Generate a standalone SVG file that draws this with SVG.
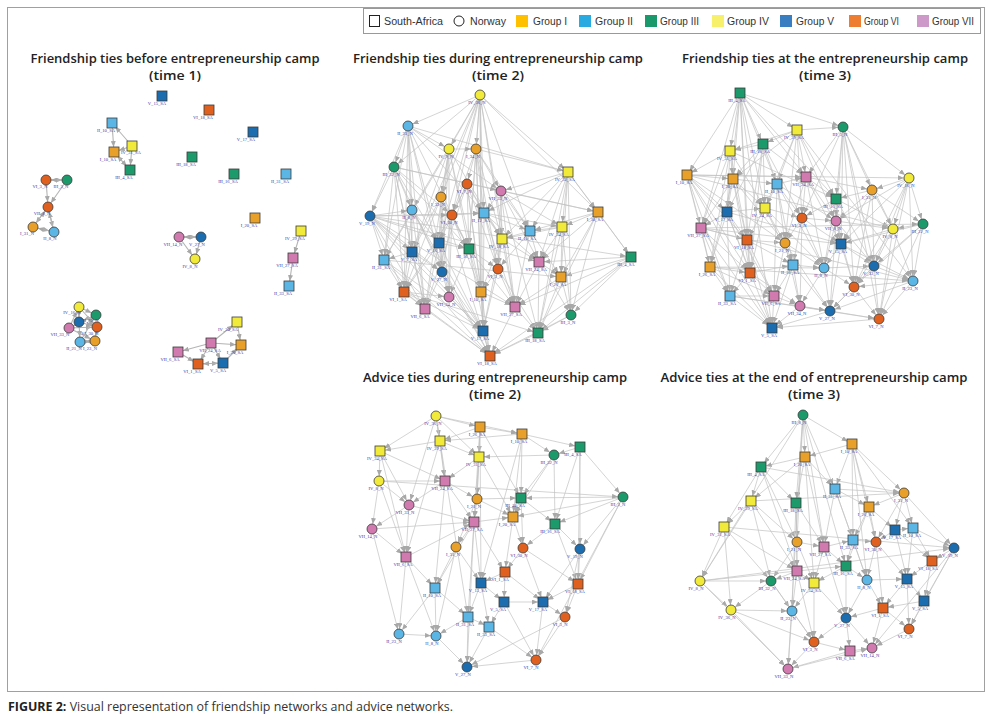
<svg xmlns="http://www.w3.org/2000/svg" width="988" height="723" viewBox="0 0 988 723">
<style>
.O{fill:#E8A02A}.L{fill:#5BB6E6}.G{fill:#1D9A6C}.Y{fill:#F2EA3A}.B{fill:#1B6DB0}.R{fill:#E0611F}.P{fill:#D07AB0}
.nodes circle,.nodes rect{stroke:#3a3a3a;stroke-width:.8}
.nodes text{font-family:"Liberation Serif",serif;font-size:4.6px;fill:#3b3bab;text-anchor:middle}
.e path{fill:none;stroke:#c2c2c2;stroke-width:.7;marker-end:url(#ar)}
.e1 path{fill:none;stroke:#b4b4b4;stroke-width:1.1;marker-end:url(#ar)}
.title{font-family:"Open Sans","Liberation Sans",sans-serif;font-weight:600;font-size:13px;fill:#222;text-anchor:middle}
.leg{font-family:"Liberation Sans",sans-serif;font-size:10px;fill:#333}
</style>
<defs>
<marker id="ar" markerUnits="userSpaceOnUse" viewBox="0 0 6 5" markerWidth="6" markerHeight="5" refX="11" refY="2.5" orient="auto"><path d="M0 0L6 2.5L0 5z" fill="#a8a8a8"/></marker>
</defs>
<rect x="0" y="0" width="988" height="723" fill="#fff"/>
<rect x="7.5" y="7.5" width="977" height="684" fill="none" stroke="#a0a0a0" stroke-width="1"/>

<g id="legend">
<rect x="363.5" y="8.5" width="617" height="25" fill="#fff" stroke="#999" stroke-width="1"/>
<rect x="369.5" y="15.5" width="10" height="11" fill="#fff" stroke="#222" stroke-width="1"/>
<text class="leg" x="384" y="25" textLength="59" lengthAdjust="spacingAndGlyphs">South-Africa</text>
<circle cx="459" cy="21" r="5" fill="#fff" stroke="#222" stroke-width="1"/>
<text class="leg" x="470" y="25" textLength="36" lengthAdjust="spacingAndGlyphs">Norway</text>
<rect x="516" y="15" width="12" height="12" fill="#FFC000"/>
<text class="leg" x="533" y="25" textLength="34" lengthAdjust="spacingAndGlyphs">Group I</text>
<rect x="579" y="15" width="12" height="12" fill="#29ABE2"/>
<text class="leg" x="595" y="25" textLength="38" lengthAdjust="spacingAndGlyphs">Group II</text>
<rect x="645" y="15" width="12" height="12" fill="#1A9A6C"/>
<text class="leg" x="660" y="25" textLength="39" lengthAdjust="spacingAndGlyphs">Group III</text>
<rect x="712" y="15" width="12" height="12" fill="#F7F06B"/>
<text class="leg" x="727" y="25" textLength="42" lengthAdjust="spacingAndGlyphs">Group IV</text>
<rect x="780" y="15" width="12" height="12" fill="#3A7EC2"/>
<text class="leg" x="796" y="25" textLength="38" lengthAdjust="spacingAndGlyphs">Group V</text>
<rect x="849" y="15" width="12" height="12" fill="#EE7D31"/>
<text class="leg" x="864" y="25" textLength="35" lengthAdjust="spacingAndGlyphs">Group VI</text>
<rect x="917" y="15" width="12" height="12" fill="#CC99C9"/>
<text class="leg" x="932" y="25" textLength="42" lengthAdjust="spacingAndGlyphs">Group VII</text>
</g>

<g id="titles">
<text class="title" x="175" y="63" textLength="289" lengthAdjust="spacingAndGlyphs">Friendship ties before entrepreneurship camp</text>
<text class="title" x="175" y="80" textLength="52" lengthAdjust="spacingAndGlyphs">(time 1)</text>
<text class="title" x="498" y="63" textLength="290" lengthAdjust="spacingAndGlyphs">Friendship ties during entrepreneurship camp</text>
<text class="title" x="498" y="80" textLength="52" lengthAdjust="spacingAndGlyphs">(time 2)</text>
<text class="title" x="825" y="63" textLength="286" lengthAdjust="spacingAndGlyphs">Friendship ties at the entrepreneurship camp</text>
<text class="title" x="825" y="80" textLength="52" lengthAdjust="spacingAndGlyphs">(time 3)</text>
<text class="title" x="495" y="382" textLength="264" lengthAdjust="spacingAndGlyphs">Advice ties during entrepreneurship camp</text>
<text class="title" x="495" y="399" textLength="52" lengthAdjust="spacingAndGlyphs">(time 2)</text>
<text class="title" x="814" y="382" textLength="307" lengthAdjust="spacingAndGlyphs">Advice ties at the end of entrepreneurship camp</text>
<text class="title" x="814" y="399" textLength="52" lengthAdjust="spacingAndGlyphs">(time 3)</text>
</g>

<g id="connectors">
<g class="e1">
<path d="M132 146L112 123"/><path d="M112 123L114 152"/><path d="M132 146L114 152"/><path d="M132 146L130 170"/><path d="M130 170L114 152"/><path d="M114 152L130 170"/>
<path d="M46 180L67 180"/><path d="M67 180L46 180"/><path d="M46 180L48 207"/><path d="M67 180L48 207"/><path d="M48 207L33 227"/><path d="M33 227L48 207"/><path d="M48 207L54 232"/><path d="M54 232L48 207"/><path d="M33 227L54 232"/><path d="M54 232L33 227"/>
<path d="M179 237L201 237"/><path d="M201 237L179 237"/><path d="M179 237L195 259"/><path d="M201 237L195 259"/>
<path d="M301 231L293 258"/><path d="M293 258L289 286"/>
<path d="M79 307L96 315"/><path d="M79 307L79 322"/><path d="M96 315L79 322"/><path d="M79 322L97 327"/><path d="M69 328L97 327"/><path d="M79 322L80 342"/><path d="M97 327L95 341"/><path d="M69 328L95 341"/><path d="M80 342L95 341"/><path d="M95 341L80 342"/><path d="M96 315L69 328"/><path d="M79 307L97 327"/><path d="M80 342L96 315"/><path d="M69 328L79 307"/>
<path d="M237 322L241 345"/><path d="M211 343L241 345"/><path d="M211 343L178 352"/><path d="M211 343L198 364"/><path d="M198 364L223 363"/><path d="M223 363L198 364"/><path d="M223 363L241 345"/><path d="M211 343L223 363"/><path d="M178 352L198 364"/><path d="M211 343L237 322"/>
</g>
<g class="e">
<path d="M480 95L408 126"/><path d="M480 95L449 149"/><path d="M480 95L476 149"/><path d="M480 95L568 172"/><path d="M480 95L394 167"/><path d="M480 95L441 197"/><path d="M480 95L452 215"/><path d="M480 95L484 213"/><path d="M480 95L502 239"/><path d="M480 95L469 249"/><path d="M480 95L481 292"/><path d="M480 95L483 331"/><path d="M480 95L530 231"/><path d="M480 95L412 210"/>
<path d="M408 126L449 149"/><path d="M408 126L394 167"/><path d="M408 126L370 216"/><path d="M408 126L412 210"/><path d="M408 126L439 243"/><path d="M408 126L384 260"/><path d="M408 126L469 249"/><path d="M408 126L501 191"/><path d="M408 126L412 252"/>
<path d="M449 149L476 149"/><path d="M449 149L441 197"/><path d="M449 149L439 243"/><path d="M449 149L449 297"/><path d="M449 149L425 309"/><path d="M449 149L442 272"/><path d="M449 149L384 260"/>
<path d="M476 149L467 184"/><path d="M476 149L501 191"/><path d="M476 149L484 213"/><path d="M476 149L481 292"/><path d="M476 149L568 172"/><path d="M476 149L469 249"/><path d="M476 149L483 331"/>
<path d="M394 167L370 216"/><path d="M394 167L412 210"/><path d="M394 167L412 252"/><path d="M394 167L404 292"/><path d="M394 167L452 215"/><path d="M394 167L439 243"/>
<path d="M568 172L598 212"/><path d="M568 172L562 227"/><path d="M568 172L502 239"/><path d="M568 172L539 262"/><path d="M568 172L631 257"/><path d="M568 172L501 191"/><path d="M568 172L561 277"/>
<path d="M467 184L452 215"/><path d="M467 184L469 249"/><path d="M467 184L498 269"/><path d="M467 184L490 356"/><path d="M467 184L425 309"/>
<path d="M501 191L530 231"/><path d="M501 191L502 239"/><path d="M501 191L515 307"/><path d="M501 191L538 333"/><path d="M501 191L598 212"/>
<path d="M441 197L439 243"/><path d="M441 197L442 272"/><path d="M441 197L404 292"/><path d="M441 197L490 356"/>
<path d="M412 210L412 252"/><path d="M412 210L384 260"/><path d="M412 210L404 292"/><path d="M412 210L483 331"/>
<path d="M370 216L412 252"/><path d="M370 216L384 260"/><path d="M370 216L404 292"/><path d="M370 216L425 309"/><path d="M370 216L490 356"/><path d="M370 216L483 331"/><path d="M370 216L469 249"/><path d="M370 216L484 213"/>
<path d="M452 215L484 213"/><path d="M452 215L442 272"/><path d="M452 215L449 297"/>
<path d="M484 213L530 231"/><path d="M484 213L498 269"/><path d="M484 213L483 331"/><path d="M484 213L562 227"/>
<path d="M598 212L631 257"/><path d="M598 212L561 277"/><path d="M598 212L571 315"/><path d="M598 212L562 227"/><path d="M598 212L539 262"/>
<path d="M562 227L530 231"/><path d="M562 227L561 277"/><path d="M562 227L539 262"/><path d="M562 227L538 333"/>
<path d="M530 231L502 239"/><path d="M530 231L515 307"/><path d="M530 231L561 277"/>
<path d="M502 239L498 269"/><path d="M502 239L481 292"/><path d="M502 239L483 331"/>
<path d="M439 243L442 272"/><path d="M439 243L404 292"/><path d="M439 243L469 249"/><path d="M439 243L425 309"/>
<path d="M412 252L384 260"/><path d="M412 252L404 292"/><path d="M412 252L483 331"/>
<path d="M469 249L498 269"/><path d="M469 249L481 292"/><path d="M469 249L490 356"/>
<path d="M631 257L561 277"/><path d="M631 257L571 315"/><path d="M631 257L538 333"/><path d="M631 257L539 262"/>
<path d="M384 260L404 292"/><path d="M384 260L425 309"/><path d="M384 260L490 356"/>
<path d="M539 262L561 277"/><path d="M539 262L515 307"/><path d="M539 262L571 315"/>
<path d="M442 272L449 297"/><path d="M442 272L425 309"/><path d="M442 272L490 356"/>
<path d="M498 269L515 307"/><path d="M498 269L538 333"/><path d="M561 277L571 315"/><path d="M561 277L538 333"/>
<path d="M404 292L425 309"/><path d="M404 292L483 331"/><path d="M404 292L490 356"/><path d="M481 292L515 307"/><path d="M481 292L483 331"/><path d="M449 297L483 331"/>
<path d="M515 307L538 333"/><path d="M425 309L490 356"/><path d="M571 315L538 333"/><path d="M483 331L490 356"/><path d="M538 333L490 356"/><path d="M515 307L490 356"/><path d="M571 315L490 356"/>
<path d="M408 126L568 172"/><path d="M370 216L631 257"/><path d="M384 260L561 277"/><path d="M370 216L539 262"/><path d="M394 167L598 212"/><path d="M404 292L538 333"/>
<path d="M480 95L515 307"/><path d="M480 95L439 243"/><path d="M480 95L412 252"/><path d="M480 95L598 212"/><path d="M408 126L404 292"/><path d="M408 126L442 272"/><path d="M408 126L484 213"/><path d="M408 126L425 309"/>
<path d="M449 149L412 252"/><path d="M449 149L469 249"/><path d="M449 149L502 239"/><path d="M449 149L481 292"/><path d="M476 149L452 215"/><path d="M476 149L502 239"/><path d="M476 149L530 231"/><path d="M476 149L498 269"/>
<path d="M394 167L384 260"/><path d="M394 167L469 249"/><path d="M394 167L442 272"/><path d="M394 167L425 309"/><path d="M568 172L484 213"/><path d="M568 172L530 231"/><path d="M568 172L571 315"/><path d="M568 172L538 333"/>
<path d="M467 184L484 213"/><path d="M467 184L502 239"/><path d="M467 184L439 243"/><path d="M467 184L481 292"/><path d="M501 191L484 213"/><path d="M501 191L562 227"/><path d="M501 191L539 262"/><path d="M501 191L498 269"/>
<path d="M441 197L412 252"/><path d="M441 197L469 249"/><path d="M441 197L449 297"/><path d="M412 210L439 243"/><path d="M412 210L425 309"/><path d="M412 210L490 356"/><path d="M370 216L442 272"/><path d="M370 216L412 210"/>
<path d="M452 215L469 249"/><path d="M452 215L481 292"/><path d="M452 215L404 292"/><path d="M484 213L502 239"/><path d="M484 213L539 262"/><path d="M484 213L515 307"/><path d="M598 212L530 231"/><path d="M598 212L538 333"/>
<path d="M562 227L571 315"/><path d="M562 227L502 239"/><path d="M530 231L498 269"/><path d="M530 231L539 262"/><path d="M502 239L539 262"/><path d="M502 239L515 307"/><path d="M439 243L483 331"/><path d="M439 243L449 297"/>
<path d="M412 252L425 309"/><path d="M412 252L442 272"/><path d="M469 249L449 297"/><path d="M469 249L515 307"/><path d="M539 262L538 333"/><path d="M498 269L481 292"/><path d="M498 269L483 331"/><path d="M442 272L483 331"/>
<path d="M561 277L515 307"/><path d="M404 292L449 297"/><path d="M631 257L515 307"/><path d="M631 257L490 356"/><path d="M370 216L515 307"/><path d="M384 260L483 331"/><path d="M394 167L501 191"/><path d="M370 216L452 215"/>
</g>
<g class="e">
<path d="M740 93L797 130"/><path d="M740 93L763 144"/><path d="M740 93L730 151"/><path d="M740 93L687 175"/><path d="M740 93L733 179"/><path d="M740 93L727 212"/><path d="M740 93L701 228"/><path d="M740 93L765 208"/><path d="M740 93L843 127"/><path d="M740 93L777 184"/>
<path d="M797 130L843 127"/><path d="M797 130L763 144"/><path d="M797 130L730 151"/><path d="M797 130L806 177"/><path d="M797 130L836 199"/><path d="M797 130L802 218"/><path d="M797 130L785 243"/>
<path d="M843 127L909 178"/><path d="M843 127L872 190"/><path d="M843 127L836 199"/><path d="M843 127L836 221"/><path d="M843 127L841 244"/><path d="M843 127L874 266"/><path d="M843 127L806 177"/>
<path d="M763 144L730 151"/><path d="M763 144L733 179"/><path d="M763 144L777 184"/><path d="M763 144L765 208"/><path d="M763 144L747 240"/><path d="M763 144L750 273"/>
<path d="M730 151L687 175"/><path d="M730 151L733 179"/><path d="M730 151L727 212"/><path d="M730 151L701 228"/><path d="M730 151L710 267"/>
<path d="M687 175L733 179"/><path d="M687 175L701 228"/><path d="M687 175L710 267"/><path d="M687 175L730 296"/><path d="M687 175L727 212"/><path d="M687 175L772 328"/>
<path d="M733 179L777 184"/><path d="M733 179L727 212"/><path d="M733 179L747 240"/><path d="M733 179L750 273"/><path d="M733 179L785 243"/>
<path d="M777 184L806 177"/><path d="M777 184L802 218"/><path d="M777 184L785 243"/><path d="M777 184L793 265"/><path d="M777 184L836 221"/>
<path d="M806 177L836 199"/><path d="M806 177L836 221"/><path d="M806 177L802 218"/><path d="M806 177L824 268"/>
<path d="M909 178L872 190"/><path d="M909 178L923 224"/><path d="M909 178L893 229"/><path d="M909 178L913 281"/><path d="M909 178L841 244"/><path d="M909 178L836 221"/>
<path d="M872 190L836 199"/><path d="M872 190L893 229"/><path d="M872 190L874 266"/><path d="M872 190L836 221"/>
<path d="M836 199L836 221"/><path d="M836 199L841 244"/><path d="M836 199L824 268"/><path d="M836 199L893 229"/>
<path d="M727 212L701 228"/><path d="M727 212L747 240"/><path d="M727 212L765 208"/><path d="M727 212L730 296"/><path d="M727 212L772 328"/>
<path d="M765 208L802 218"/><path d="M765 208L785 243"/><path d="M765 208L747 240"/><path d="M765 208L793 265"/>
<path d="M802 218L836 221"/><path d="M802 218L785 243"/><path d="M802 218L824 268"/><path d="M802 218L800 306"/>
<path d="M836 221L841 244"/><path d="M836 221L824 268"/><path d="M836 221L830 311"/>
<path d="M923 224L893 229"/><path d="M923 224L913 281"/><path d="M923 224L879 319"/><path d="M923 224L874 266"/><path d="M923 224L841 244"/>
<path d="M893 229L874 266"/><path d="M893 229L913 281"/><path d="M893 229L841 244"/>
<path d="M701 228L710 267"/><path d="M701 228L747 240"/><path d="M701 228L730 296"/><path d="M701 228L772 328"/>
<path d="M747 240L750 273"/><path d="M747 240L785 243"/><path d="M747 240L774 296"/><path d="M747 240L772 328"/>
<path d="M785 243L793 265"/><path d="M785 243L824 268"/><path d="M785 243L800 306"/>
<path d="M841 244L874 266"/><path d="M841 244L854 287"/><path d="M841 244L824 268"/><path d="M841 244L830 311"/>
<path d="M710 267L750 273"/><path d="M710 267L730 296"/><path d="M710 267L772 328"/>
<path d="M750 273L730 296"/><path d="M750 273L774 296"/><path d="M750 273L793 265"/>
<path d="M793 265L824 268"/><path d="M793 265L774 296"/><path d="M793 265L800 306"/><path d="M793 265L830 311"/>
<path d="M824 268L854 287"/><path d="M824 268L830 311"/><path d="M824 268L874 266"/>
<path d="M874 266L913 281"/><path d="M874 266L854 287"/><path d="M874 266L879 319"/><path d="M913 281L879 319"/><path d="M913 281L854 287"/>
<path d="M854 287L830 311"/><path d="M854 287L879 319"/><path d="M730 296L772 328"/><path d="M730 296L774 296"/><path d="M774 296L800 306"/><path d="M774 296L772 328"/>
<path d="M800 306L830 311"/><path d="M800 306L772 328"/><path d="M830 311L772 328"/><path d="M879 319L772 328"/><path d="M830 311L879 319"/>
<path d="M740 93L772 328"/><path d="M843 127L879 319"/><path d="M909 178L879 319"/><path d="M701 228L913 281"/><path d="M687 175L893 229"/><path d="M701 228L923 224"/><path d="M710 267L913 281"/><path d="M730 296L879 319"/><path d="M797 130L913 281"/><path d="M687 175L909 178"/><path d="M730 151L836 199"/><path d="M727 212L841 244"/>
<path d="M740 93L806 177"/><path d="M740 93L750 273"/><path d="M740 93L747 240"/><path d="M797 130L777 184"/><path d="M797 130L733 179"/><path d="M797 130L765 208"/><path d="M797 130L836 221"/><path d="M843 127L893 229"/>
<path d="M843 127L802 218"/><path d="M843 127L854 287"/><path d="M763 144L806 177"/><path d="M763 144L802 218"/><path d="M763 144L727 212"/><path d="M730 151L747 240"/><path d="M730 151L765 208"/><path d="M687 175L747 240"/>
<path d="M687 175L750 273"/><path d="M733 179L765 208"/><path d="M733 179L701 228"/><path d="M733 179L710 267"/><path d="M777 184L765 208"/><path d="M777 184L824 268"/><path d="M777 184L774 296"/><path d="M806 177L785 243"/>
<path d="M806 177L841 244"/><path d="M806 177L872 190"/><path d="M909 178L874 266"/><path d="M909 178L854 287"/><path d="M872 190L923 224"/><path d="M872 190L841 244"/><path d="M872 190L854 287"/><path d="M836 199L802 218"/>
<path d="M836 199L874 266"/><path d="M727 212L750 273"/><path d="M727 212L710 267"/><path d="M727 212L774 296"/><path d="M765 208L750 273"/><path d="M765 208L824 268"/><path d="M802 218L793 265"/><path d="M802 218L841 244"/>
<path d="M836 221L874 266"/><path d="M836 221L854 287"/><path d="M836 221L893 229"/><path d="M893 229L854 287"/><path d="M893 229L879 319"/><path d="M701 228L750 273"/><path d="M747 240L793 265"/><path d="M747 240L730 296"/>
<path d="M785 243L774 296"/><path d="M785 243L830 311"/><path d="M841 244L913 281"/><path d="M710 267L774 296"/><path d="M750 273L800 306"/><path d="M793 265L772 328"/><path d="M824 268L800 306"/><path d="M874 266L830 311"/>
<path d="M913 281L830 311"/><path d="M923 224L854 287"/><path d="M687 175L785 243"/><path d="M701 228L841 244"/><path d="M710 267L824 268"/><path d="M730 296L830 311"/><path d="M740 93L836 199"/><path d="M687 175L806 177"/>
</g>
<g class="e">
<path d="M436 416L480 427"/><path d="M436 416L440 441"/><path d="M436 416L380 451"/><path d="M436 416L445 481"/><path d="M436 416L479 457"/><path d="M436 416L409 505"/><path d="M436 416L522 434"/>
<path d="M480 427L522 434"/><path d="M480 427L440 441"/><path d="M480 427L479 457"/><path d="M480 427L477 499"/><path d="M480 427L474 522"/><path d="M480 427L521 498"/>
<path d="M522 434L580 447"/><path d="M522 434L554 455"/><path d="M522 434L521 498"/><path d="M522 434L513 517"/><path d="M522 434L440 441"/>
<path d="M440 441L380 451"/><path d="M440 441L445 481"/><path d="M440 441L479 457"/><path d="M440 441L406 557"/>
<path d="M380 451L379 481"/><path d="M380 451L409 505"/><path d="M380 451L445 481"/><path d="M380 451L406 557"/>
<path d="M580 447L554 455"/><path d="M580 447L623 497"/><path d="M580 447L555 524"/><path d="M580 447L580 549"/>
<path d="M554 455L521 498"/><path d="M554 455L555 524"/><path d="M554 455L513 517"/><path d="M554 455L479 457"/>
<path d="M479 457L477 499"/><path d="M479 457L474 522"/><path d="M479 457L445 481"/><path d="M479 457L513 517"/>
<path d="M379 481L372 529"/><path d="M379 481L409 505"/><path d="M379 481L406 557"/><path d="M379 481L445 481"/>
<path d="M445 481L409 505"/><path d="M445 481L474 522"/><path d="M445 481L477 499"/><path d="M445 481L435 588"/>
<path d="M477 499L474 522"/><path d="M477 499L521 498"/><path d="M477 499L456 547"/><path d="M477 499L513 517"/>
<path d="M521 498L555 524"/><path d="M521 498L513 517"/><path d="M521 498L523 548"/>
<path d="M623 497L555 524"/><path d="M623 497L521 498"/><path d="M623 497L580 549"/><path d="M623 497L578 584"/><path d="M623 497L513 517"/>
<path d="M409 505L406 557"/><path d="M409 505L372 529"/><path d="M409 505L474 522"/>
<path d="M474 522L513 517"/><path d="M474 522L456 547"/><path d="M474 522L481 583"/><path d="M474 522L505 572"/><path d="M474 522L435 588"/><path d="M474 522L468 617"/><path d="M474 522L467 667"/>
<path d="M513 517L523 548"/><path d="M513 517L505 572"/>
<path d="M555 524L523 548"/><path d="M555 524L578 584"/><path d="M555 524L580 549"/>
<path d="M372 529L406 557"/><path d="M372 529L399 634"/><path d="M372 529L474 522"/>
<path d="M456 547L435 588"/><path d="M456 547L481 583"/><path d="M456 547L436 636"/>
<path d="M523 548L505 572"/><path d="M523 548L543 602"/><path d="M523 548L578 584"/>
<path d="M580 549L578 584"/><path d="M580 549L565 617"/><path d="M580 549L543 602"/>
<path d="M406 557L435 588"/><path d="M406 557L399 634"/><path d="M406 557L436 636"/><path d="M406 557L474 522"/>
<path d="M505 572L504 602"/><path d="M505 572L543 602"/><path d="M505 572L481 583"/>
<path d="M578 584L565 617"/><path d="M578 584L543 602"/>
<path d="M481 583L504 602"/><path d="M481 583L468 617"/><path d="M481 583L489 627"/>
<path d="M435 588L468 617"/><path d="M435 588L436 636"/><path d="M435 588L399 634"/>
<path d="M504 602L489 627"/><path d="M504 602L543 602"/><path d="M504 602L536 660"/>
<path d="M543 602L565 617"/><path d="M543 602L536 660"/><path d="M565 617L536 660"/><path d="M565 617L467 667"/>
<path d="M468 617L489 627"/><path d="M468 617L436 636"/><path d="M468 617L467 667"/><path d="M489 627L467 667"/><path d="M489 627L536 660"/>
<path d="M399 634L436 636"/><path d="M436 636L467 667"/><path d="M536 660L467 667"/>
<path d="M436 416L468 617"/><path d="M522 434L481 583"/><path d="M623 497L536 660"/><path d="M580 447L578 584"/><path d="M480 427L481 583"/><path d="M379 481L623 497"/>
</g>
<g class="e">
<path d="M803 415L805 457"/><path d="M803 415L761 467"/><path d="M803 415L852 444"/><path d="M803 415L796 503"/><path d="M803 415L824 547"/><path d="M803 415L835 489"/><path d="M803 415L846 566"/><path d="M803 415L797 542"/>
<path d="M852 444L805 457"/><path d="M852 444L835 489"/><path d="M852 444L904 493"/><path d="M852 444L869 507"/><path d="M852 444L853 540"/><path d="M852 444L876 542"/><path d="M852 444L913 528"/><path d="M852 444L867 580"/>
<path d="M805 457L761 467"/><path d="M805 457L751 501"/><path d="M805 457L796 503"/><path d="M805 457L835 489"/><path d="M805 457L824 547"/><path d="M805 457L814 583"/>
<path d="M761 467L751 501"/><path d="M761 467L796 503"/><path d="M761 467L724 527"/><path d="M761 467L797 542"/><path d="M761 467L797 571"/>
<path d="M835 489L869 507"/><path d="M835 489L853 540"/><path d="M835 489L824 547"/><path d="M835 489L867 580"/><path d="M835 489L904 493"/>
<path d="M904 493L869 507"/><path d="M904 493L895 530"/><path d="M904 493L913 528"/><path d="M904 493L954 548"/><path d="M904 493L876 542"/>
<path d="M751 501L724 527"/><path d="M751 501L797 542"/><path d="M751 501L700 581"/><path d="M751 501L771 581"/><path d="M751 501L797 571"/>
<path d="M796 503L797 542"/><path d="M796 503L824 547"/><path d="M796 503L797 571"/><path d="M796 503L792 611"/>
<path d="M869 507L853 540"/><path d="M869 507L895 530"/><path d="M869 507L876 542"/><path d="M869 507L846 566"/>
<path d="M724 527L700 581"/><path d="M724 527L731 610"/><path d="M724 527L771 581"/><path d="M724 527L797 571"/>
<path d="M895 530L913 528"/><path d="M895 530L932 561"/><path d="M895 530L907 579"/><path d="M895 530L876 542"/>
<path d="M913 528L954 548"/><path d="M913 528L932 561"/><path d="M913 528L907 579"/>
<path d="M797 542L824 547"/><path d="M797 542L797 571"/><path d="M797 542L814 583"/><path d="M797 542L771 581"/>
<path d="M824 547L853 540"/><path d="M824 547L846 566"/><path d="M824 547L814 583"/><path d="M824 547L846 618"/>
<path d="M853 540L876 542"/><path d="M853 540L846 566"/><path d="M853 540L867 580"/>
<path d="M876 542L867 580"/><path d="M876 542L907 579"/><path d="M876 542L883 608"/>
<path d="M954 548L932 561"/><path d="M954 548L924 601"/><path d="M954 548L909 629"/><path d="M932 561L907 579"/><path d="M932 561L924 601"/>
<path d="M797 571L771 581"/><path d="M797 571L814 583"/><path d="M797 571L792 611"/><path d="M797 571L814 642"/>
<path d="M846 566L867 580"/><path d="M846 566L814 583"/><path d="M846 566L846 618"/>
<path d="M867 580L883 608"/><path d="M867 580L846 618"/><path d="M867 580L907 579"/>
<path d="M907 579L924 601"/><path d="M907 579L883 608"/><path d="M907 579L909 629"/>
<path d="M700 581L731 610"/><path d="M700 581L788 669"/><path d="M700 581L771 581"/>
<path d="M771 581L731 610"/><path d="M771 581L792 611"/><path d="M771 581L814 642"/>
<path d="M814 583L792 611"/><path d="M814 583L846 618"/><path d="M814 583L814 642"/>
<path d="M924 601L883 608"/><path d="M924 601L909 629"/>
<path d="M731 610L792 611"/><path d="M731 610L788 669"/><path d="M731 610L814 642"/>
<path d="M792 611L814 642"/><path d="M792 611L788 669"/>
<path d="M883 608L909 629"/><path d="M883 608L846 618"/><path d="M883 608L872 648"/>
<path d="M846 618L850 651"/><path d="M846 618L872 648"/><path d="M846 618L814 642"/><path d="M909 629L872 648"/>
<path d="M814 642L850 651"/><path d="M814 642L788 669"/><path d="M850 651L872 648"/><path d="M850 651L788 669"/>
<path d="M803 415L788 669"/><path d="M803 415L700 581"/><path d="M700 581L954 548"/><path d="M724 527L954 548"/><path d="M751 501L904 493"/><path d="M761 467L904 493"/><path d="M700 581L846 566"/><path d="M788 669L872 648"/><path d="M954 548L872 648"/>
</g>
</g>

<g class="nodes">
<g id="a1"><rect class="B" x="157" y="91" width="10" height="10"/><text x="157" y="105">V_15_SA</text></g>
<g id="a2"><rect class="R" x="204" y="105" width="10" height="10"/><text x="203" y="119">VI_18_SA</text></g>
<g id="a3"><rect class="B" x="248" y="127" width="10" height="10"/><text x="246" y="141">V_17_SA</text></g>
<g id="a4"><rect class="L" x="107" y="118" width="10" height="10"/><text x="106" y="132">II_10_SA</text></g>
<g id="a5"><rect class="Y" x="127" y="141" width="10" height="10"/><text x="131" y="154">IV_31_SA</text></g>
<g id="a6"><rect class="O" x="109" y="147" width="10" height="10"/><text x="108" y="161">I_10_SA</text></g>
<g id="a7"><rect class="G" x="125" y="165" width="10" height="10"/><text x="124" y="179">III_4_SA</text></g>
<g id="a8"><rect class="G" x="187" y="152" width="10" height="10"/><text x="186" y="166">III_18_SA</text></g>
<g id="a9"><rect class="G" x="229" y="169" width="10" height="10"/><text x="228" y="183">III_16_SA</text></g>
<g id="a10"><rect class="L" x="281" y="169" width="10" height="10"/><text x="280" y="183">II_31_SA</text></g>
<g id="a11"><circle class="R" cx="46" cy="180" r="5"/><text x="40" y="188">VI_3_N</text></g>
<g id="a12"><circle class="G" cx="67" cy="180" r="5"/><text x="61" y="188">III_3_N</text></g>
<g id="a13"><circle class="R" cx="48" cy="207" r="5"/><text x="42" y="215">VII_8_N</text></g>
<g id="a14"><circle class="O" cx="33" cy="227" r="5"/><text x="27" y="235">I_31_N</text></g>
<g id="a15"><circle class="L" cx="54" cy="232" r="5"/><text x="50" y="240">II_8_N</text></g>
<g id="a16"><rect class="O" x="250" y="213" width="10" height="10"/><text x="249" y="227">I_20_SA</text></g>
<g id="a17"><rect class="Y" x="296" y="226" width="10" height="10"/><text x="295" y="240">IV_29_SA</text></g>
<g id="a18"><circle class="P" cx="179" cy="237" r="5"/><text x="173" y="246">VII_14_N</text></g>
<g id="a19"><circle class="B" cx="201" cy="237" r="5"/><text x="197" y="246">V_27_N</text></g>
<g id="a20"><circle class="Y" cx="195" cy="259" r="5"/><text x="190" y="268">IV_8_N</text></g>
<g id="a21"><rect class="P" x="288" y="253" width="10" height="10"/><text x="287" y="267">VII_27_SA</text></g>
<g id="a22"><rect class="L" x="284" y="281" width="10" height="10"/><text x="283" y="295">II_33_SA</text></g>
<g id="a23"><circle class="Y" cx="79" cy="307" r="5"/><text x="72" y="314">IV_16_N</text></g>
<g id="a24"><circle class="G" cx="96" cy="315" r="5"/><text x="90" y="322">III_22_N</text></g>
<g id="a25"><circle class="B" cx="79" cy="322" r="5"/></g>
<g id="a26"><circle class="R" cx="97" cy="327" r="5"/><text x="90" y="335">VI_30_N</text></g>
<g id="a27"><circle class="P" cx="69" cy="328" r="5"/><text x="60" y="336">VII_33_N</text></g>
<g id="a28"><circle class="L" cx="80" cy="342" r="5"/><text x="74" y="350">II_21_N</text></g>
<g id="a29"><circle class="O" cx="95" cy="341" r="5"/><text x="90" y="350">I_23_N</text></g>
<g id="a30"><rect class="Y" x="232" y="317" width="10" height="10"/><text x="228" y="331">IV_34_SA</text></g>
<g id="a31"><rect class="P" x="206" y="338" width="10" height="10"/><text x="210" y="352">VII_24_SA</text></g>
<g id="a32"><rect class="O" x="236" y="340" width="10" height="10"/><text x="235" y="354">I_26_SA</text></g>
<g id="a33"><rect class="P" x="173" y="347" width="10" height="10"/><text x="170" y="361">VII_6_SA</text></g>
<g id="a34"><rect class="R" x="193" y="359" width="10" height="10"/><text x="192" y="373">VI_1_SA</text></g>
<g id="a35"><rect class="B" x="218" y="358" width="10" height="10"/><text x="218" y="372">V_5_SA</text></g>

<g id="b1"><circle class="Y" cx="480" cy="95" r="5"/><text x="477" y="104">IV_36_N</text></g>
<g id="b2"><circle class="L" cx="408" cy="126" r="5"/><text x="405" y="135">II_23_N</text></g>
<g id="b3"><circle class="Y" cx="449" cy="149" r="5"/><text x="446" y="158">IV_9_N</text></g>
<g id="b4"><circle class="O" cx="476" cy="149" r="5"/><text x="473" y="158">I_34_N</text></g>
<g id="b5"><circle class="G" cx="394" cy="167" r="5"/><text x="391" y="176">III_32_N</text></g>
<g id="b6"><rect class="Y" x="563" y="167" width="10" height="10"/><text x="565" y="181">IV_32_SA</text></g>
<g id="b7"><circle class="R" cx="467" cy="184" r="5"/><text x="464" y="193">VI_7_N</text></g>
<g id="b8"><circle class="P" cx="501" cy="191" r="5"/><text x="498" y="200">VII_33_N</text></g>
<g id="b9"><circle class="O" cx="441" cy="197" r="5"/><text x="438" y="206">I_33_N</text></g>
<g id="b10"><circle class="L" cx="412" cy="210" r="5"/><text x="409" y="219">II_8_N</text></g>
<g id="b11"><circle class="B" cx="370" cy="216" r="5"/><text x="367" y="225">V_19_N</text></g>
<g id="b12"><circle class="R" cx="452" cy="215" r="5"/><text x="449" y="224">VI_30_N</text></g>
<g id="b13"><rect class="L" x="479" y="208" width="10" height="10"/><text x="481" y="222">II_12_SA</text></g>
<g id="b14"><rect class="O" x="593" y="207" width="10" height="10"/><text x="595" y="221">I_30_SA</text></g>
<g id="b15"><rect class="Y" x="557" y="222" width="10" height="10"/><text x="559" y="236">IV_34_SA</text></g>
<g id="b16"><rect class="L" x="525" y="226" width="10" height="10"/><text x="527" y="240">II_10_SA</text></g>
<g id="b17"><rect class="Y" x="497" y="234" width="10" height="10"/><text x="499" y="248">IV_18_SA</text></g>
<g id="b18"><rect class="B" x="434" y="238" width="10" height="10"/><text x="436" y="252">V_16_SA</text></g>
<g id="b19"><rect class="B" x="407" y="247" width="10" height="10"/><text x="409" y="261">V_7_SA</text></g>
<g id="b20"><rect class="G" x="464" y="244" width="10" height="10"/><text x="466" y="258">III_16_SA</text></g>
<g id="b21"><rect class="G" x="626" y="252" width="10" height="10"/><text x="626" y="266">III_4_SA</text></g>
<g id="b22"><rect class="L" x="379" y="255" width="10" height="10"/><text x="381" y="269">II_31_SA</text></g>
<g id="b23"><rect class="P" x="534" y="257" width="10" height="10"/><text x="536" y="271">VII_24_SA</text></g>
<g id="b24"><circle class="B" cx="442" cy="272" r="5"/><text x="439" y="281">V_27_N</text></g>
<g id="b25"><circle class="R" cx="498" cy="269" r="5"/><text x="495" y="278">VI_3_N</text></g>
<g id="b26"><rect class="O" x="556" y="272" width="10" height="10"/><text x="558" y="286">I_26_SA</text></g>
<g id="b27"><rect class="R" x="399" y="287" width="10" height="10"/><text x="398" y="301">VI_1_SA</text></g>
<g id="b28"><rect class="O" x="476" y="287" width="10" height="10"/><text x="478" y="301">I_10_SA</text></g>
<g id="b29"><circle class="P" cx="449" cy="297" r="5"/><text x="446" y="306">VII_34_N</text></g>
<g id="b30"><rect class="P" x="510" y="302" width="10" height="10"/><text x="511" y="316">VII_27_SA</text></g>
<g id="b31"><rect class="P" x="420" y="304" width="10" height="10"/><text x="420" y="318">VII_6_SA</text></g>
<g id="b32"><circle class="G" cx="571" cy="315" r="5"/><text x="568" y="324">III_3_N</text></g>
<g id="b33"><rect class="B" x="478" y="326" width="10" height="10"/><text x="480" y="340">V_17_SA</text></g>
<g id="b34"><rect class="G" x="533" y="328" width="10" height="10"/><text x="535" y="342">III_18_SA</text></g>
<g id="b35"><rect class="R" x="485" y="351" width="10" height="10"/><text x="487" y="365">VI_18_SA</text></g>

<g id="c1"><rect class="G" x="735" y="88" width="10" height="10"/><text x="737" y="102">III_4_SA</text></g>
<g id="c2"><rect class="Y" x="792" y="125" width="10" height="10"/><text x="794" y="139">IV_29_SA</text></g>
<g id="c3"><circle class="G" cx="843" cy="127" r="5"/><text x="840" y="136">III_3_N</text></g>
<g id="c4"><rect class="G" x="758" y="139" width="10" height="10"/><text x="760" y="153">III_18_SA</text></g>
<g id="c5"><rect class="Y" x="725" y="146" width="10" height="10"/><text x="727" y="160">IV_31_SA</text></g>
<g id="c6"><rect class="O" x="682" y="170" width="10" height="10"/><text x="684" y="184">I_10_SA</text></g>
<g id="c7"><rect class="O" x="728" y="174" width="10" height="10"/><text x="730" y="188">I_20_SA</text></g>
<g id="c8"><rect class="L" x="772" y="179" width="10" height="10"/><text x="774" y="193">II_10_SA</text></g>
<g id="c9"><rect class="P" x="801" y="172" width="10" height="10"/><text x="803" y="186">VII_24_SA</text></g>
<g id="c10"><circle class="Y" cx="909" cy="178" r="5"/><text x="906" y="187">IV_16_N</text></g>
<g id="c11"><circle class="O" cx="872" cy="190" r="5"/><text x="869" y="199">I_31_N</text></g>
<g id="c12"><rect class="G" x="831" y="194" width="10" height="10"/><text x="833" y="208">III_16_SA</text></g>
<g id="c13"><rect class="B" x="722" y="207" width="10" height="10"/><text x="724" y="221">V_17_SA</text></g>
<g id="c14"><rect class="Y" x="760" y="203" width="10" height="10"/><text x="762" y="217">IV_34_SA</text></g>
<g id="c15"><circle class="R" cx="802" cy="218" r="5"/><text x="799" y="227">VI_3_N</text></g>
<g id="c16"><circle class="P" cx="836" cy="221" r="5"/><text x="833" y="230">VII_8_N</text></g>
<g id="c17"><circle class="G" cx="923" cy="224" r="5"/><text x="920" y="233">III_22_N</text></g>
<g id="c18"><circle class="Y" cx="893" cy="229" r="5"/><text x="890" y="238">IV_8_N</text></g>
<g id="c19"><rect class="P" x="696" y="223" width="10" height="10"/><text x="698" y="237">VII_27_SA</text></g>
<g id="c20"><rect class="R" x="742" y="235" width="10" height="10"/><text x="744" y="249">VI_18_SA</text></g>
<g id="c21"><circle class="O" cx="785" cy="243" r="5"/><text x="782" y="252">I_21_N</text></g>
<g id="c22"><rect class="B" x="836" y="239" width="10" height="10"/><text x="838" y="253">V_15_SA</text></g>
<g id="c23"><rect class="O" x="705" y="262" width="10" height="10"/><text x="707" y="276">I_26_SA</text></g>
<g id="c24"><rect class="R" x="745" y="268" width="10" height="10"/><text x="747" y="282">VI_1_SA</text></g>
<g id="c25"><rect class="L" x="788" y="260" width="10" height="10"/><text x="790" y="274">II_31_SA</text></g>
<g id="c26"><circle class="L" cx="824" cy="268" r="5"/><text x="821" y="277">II_8_N</text></g>
<g id="c27"><circle class="B" cx="874" cy="266" r="5"/><text x="871" y="275">V_33_N</text></g>
<g id="c28"><circle class="L" cx="913" cy="281" r="5"/><text x="910" y="290">II_23_N</text></g>
<g id="c29"><circle class="R" cx="854" cy="287" r="5"/><text x="851" y="296">VI_30_N</text></g>
<g id="c30"><rect class="L" x="725" y="291" width="10" height="10"/><text x="727" y="305">II_33_SA</text></g>
<g id="c31"><rect class="P" x="769" y="291" width="10" height="10"/><text x="771" y="305">VII_6_SA</text></g>
<g id="c32"><circle class="P" cx="800" cy="306" r="5"/><text x="797" y="315">VII_34_N</text></g>
<g id="c33"><circle class="B" cx="830" cy="311" r="5"/><text x="827" y="320">V_27_N</text></g>
<g id="c34"><circle class="R" cx="879" cy="319" r="5"/><text x="876" y="328">VI_7_N</text></g>
<g id="c35"><rect class="B" x="767" y="323" width="10" height="10"/><text x="769" y="337">V_5_SA</text></g>

<g id="d1"><circle class="Y" cx="436" cy="416" r="5"/><text x="433" y="425">IV_36_N</text></g>
<g id="d2"><rect class="O" x="475" y="422" width="10" height="10"/><text x="477" y="436">I_26_SA</text></g>
<g id="d3"><rect class="O" x="517" y="429" width="10" height="10"/><text x="519" y="443">I_10_SA</text></g>
<g id="d4"><rect class="Y" x="435" y="436" width="10" height="10"/><text x="437" y="450">IV_29_SA</text></g>
<g id="d5"><rect class="Y" x="375" y="446" width="10" height="10"/><text x="377" y="460">IV_34_SA</text></g>
<g id="d6"><rect class="G" x="575" y="442" width="10" height="10"/><text x="573" y="456">III_4_SA</text></g>
<g id="d7"><circle class="G" cx="554" cy="455" r="5"/><text x="549" y="464">III_32_N</text></g>
<g id="d8"><rect class="Y" x="474" y="452" width="10" height="10"/><text x="476" y="466">IV_31_SA</text></g>
<g id="d9"><circle class="Y" cx="379" cy="481" r="5"/><text x="376" y="490">IV_8_N</text></g>
<g id="d10"><rect class="P" x="440" y="476" width="10" height="10"/><text x="442" y="490">VII_24_SA</text></g>
<g id="d11"><circle class="O" cx="477" cy="499" r="5"/><text x="474" y="508">I_21_N</text></g>
<g id="d12"><rect class="G" x="516" y="493" width="10" height="10"/><text x="515" y="507">III_18_SA</text></g>
<g id="d13"><circle class="G" cx="623" cy="497" r="5"/><text x="618" y="506">III_3_N</text></g>
<g id="d14"><circle class="P" cx="409" cy="505" r="5"/><text x="405" y="514">VII_33_N</text></g>
<g id="d15"><rect class="P" x="469" y="517" width="10" height="10"/><text x="472" y="531">VII_27_SA</text></g>
<g id="d16"><rect class="O" x="508" y="512" width="10" height="10"/><text x="507" y="526">I_20_SA</text></g>
<g id="d17"><rect class="G" x="550" y="519" width="10" height="10"/><text x="550" y="533">III_16_SA</text></g>
<g id="d18"><circle class="P" cx="372" cy="529" r="5"/><text x="368" y="538">VII_14_N</text></g>
<g id="d19"><circle class="O" cx="456" cy="547" r="5"/><text x="453" y="556">I_31_N</text></g>
<g id="d20"><circle class="R" cx="523" cy="548" r="5"/><text x="519" y="557">VI_30_N</text></g>
<g id="d21"><circle class="B" cx="580" cy="549" r="5"/><text x="575" y="558">V_19_N</text></g>
<g id="d22"><rect class="P" x="401" y="552" width="10" height="10"/><text x="403" y="566">VII_6_SA</text></g>
<g id="d23"><rect class="R" x="500" y="567" width="10" height="10"/><text x="500" y="581">VI_1_SA</text></g>
<g id="d24"><rect class="R" x="573" y="579" width="10" height="10"/><text x="575" y="593">VI_18_SA</text></g>
<g id="d25"><rect class="B" x="476" y="578" width="10" height="10"/><text x="478" y="592">V_15_SA</text></g>
<g id="d26"><rect class="L" x="430" y="583" width="10" height="10"/><text x="432" y="597">II_10_SA</text></g>
<g id="d27"><rect class="B" x="499" y="597" width="10" height="10"/><text x="498" y="611">V_5_SA</text></g>
<g id="d28"><rect class="B" x="538" y="597" width="10" height="10"/><text x="538" y="611">V_17_SA</text></g>
<g id="d29"><circle class="R" cx="565" cy="617" r="5"/><text x="560" y="626">VI_3_N</text></g>
<g id="d30"><rect class="L" x="463" y="612" width="10" height="10"/><text x="465" y="626">II_31_SA</text></g>
<g id="d31"><rect class="L" x="484" y="622" width="10" height="10"/><text x="486" y="636">II_33_SA</text></g>
<g id="d32"><circle class="L" cx="399" cy="634" r="5"/><text x="394" y="643">II_23_N</text></g>
<g id="d33"><circle class="L" cx="436" cy="636" r="5"/><text x="432" y="645">II_8_N</text></g>
<g id="d34"><circle class="R" cx="536" cy="660" r="5"/><text x="531" y="669">VI_7_N</text></g>
<g id="d35"><circle class="B" cx="467" cy="667" r="5"/><text x="463" y="676">V_27_N</text></g>

<g id="e1"><circle class="G" cx="803" cy="415" r="5"/><text x="799" y="424">III_8_N</text></g>
<g id="e2"><rect class="O" x="847" y="439" width="10" height="10"/><text x="849" y="453">I_10_SA</text></g>
<g id="e3"><rect class="O" x="800" y="452" width="10" height="10"/><text x="802" y="466">I_20_SA</text></g>
<g id="e4"><rect class="G" x="756" y="462" width="10" height="10"/><text x="756" y="476">III_4_SA</text></g>
<g id="e5"><rect class="L" x="830" y="484" width="10" height="10"/><text x="832" y="498">II_31_SA</text></g>
<g id="e6"><circle class="O" cx="904" cy="493" r="5"/><text x="901" y="502">I_31_N</text></g>
<g id="e7"><rect class="Y" x="746" y="496" width="10" height="10"/><text x="748" y="510">IV_29_SA</text></g>
<g id="e8"><rect class="G" x="791" y="498" width="10" height="10"/><text x="793" y="512">III_18_SA</text></g>
<g id="e9"><rect class="O" x="864" y="502" width="10" height="10"/><text x="866" y="516">I_26_SA</text></g>
<g id="e10"><rect class="Y" x="719" y="522" width="10" height="10"/><text x="720" y="536">IV_31_SA</text></g>
<g id="e11"><rect class="B" x="890" y="525" width="10" height="10"/><text x="892" y="539">V_17_SA</text></g>
<g id="e12"><rect class="L" x="908" y="523" width="10" height="10"/><text x="912" y="537">II_10_SA</text></g>
<g id="e13"><circle class="O" cx="797" cy="542" r="5"/><text x="794" y="551">I_21_N</text></g>
<g id="e14"><rect class="P" x="819" y="542" width="10" height="10"/><text x="820" y="556">VII_27_SA</text></g>
<g id="e15"><rect class="L" x="848" y="535" width="10" height="10"/><text x="849" y="549">II_33_SA</text></g>
<g id="e16"><circle class="R" cx="876" cy="542" r="5"/><text x="873" y="551">VI_30_N</text></g>
<g id="e17"><circle class="B" cx="954" cy="548" r="5"/><text x="950" y="557">V_19_N</text></g>
<g id="e18"><rect class="R" x="927" y="556" width="10" height="10"/><text x="928" y="570">VI_18_SA</text></g>
<g id="e19"><rect class="P" x="792" y="566" width="10" height="10"/><text x="794" y="580">VII_24_SA</text></g>
<g id="e20"><rect class="G" x="841" y="561" width="10" height="10"/><text x="843" y="575">III_16_SA</text></g>
<g id="e21"><circle class="L" cx="867" cy="580" r="5"/><text x="864" y="589">II_8_N</text></g>
<g id="e22"><rect class="B" x="902" y="574" width="10" height="10"/><text x="904" y="588">V_15_SA</text></g>
<g id="e23"><circle class="Y" cx="700" cy="581" r="5"/><text x="696" y="590">IV_8_N</text></g>
<g id="e24"><circle class="G" cx="771" cy="581" r="5"/><text x="767" y="590">III_32_N</text></g>
<g id="e25"><rect class="Y" x="809" y="578" width="10" height="10"/><text x="811" y="592">IV_34_SA</text></g>
<g id="e26"><rect class="B" x="919" y="596" width="10" height="10"/><text x="920" y="610">V_5_SA</text></g>
<g id="e27"><circle class="Y" cx="731" cy="610" r="5"/><text x="727" y="619">IV_36_N</text></g>
<g id="e28"><circle class="L" cx="792" cy="611" r="5"/><text x="788" y="620">II_23_N</text></g>
<g id="e29"><rect class="R" x="878" y="603" width="10" height="10"/><text x="880" y="617">VI_1_SA</text></g>
<g id="e30"><circle class="B" cx="846" cy="618" r="5"/><text x="842" y="627">V_27_N</text></g>
<g id="e31"><circle class="R" cx="909" cy="629" r="5"/><text x="905" y="638">VI_7_N</text></g>
<g id="e32"><circle class="R" cx="814" cy="642" r="5"/><text x="810" y="651">VI_3_N</text></g>
<g id="e33"><rect class="P" x="845" y="646" width="10" height="10"/><text x="845" y="660">VII_6_SA</text></g>
<g id="e34"><circle class="P" cx="872" cy="648" r="5"/><text x="870" y="657">VII_14_N</text></g>
<g id="e35"><circle class="P" cx="788" cy="669" r="5"/><text x="784" y="678">VII_33_N</text></g>
</g>

<g id="caption">
<text x="8" y="711" font-family="'Open Sans','Liberation Sans',sans-serif" font-size="12" fill="#333" textLength="445" lengthAdjust="spacingAndGlyphs"><tspan font-weight="700" fill="#222">FIGURE 2:</tspan> Visual representation of friendship networks and advice networks.</text>
</g>
</svg>
